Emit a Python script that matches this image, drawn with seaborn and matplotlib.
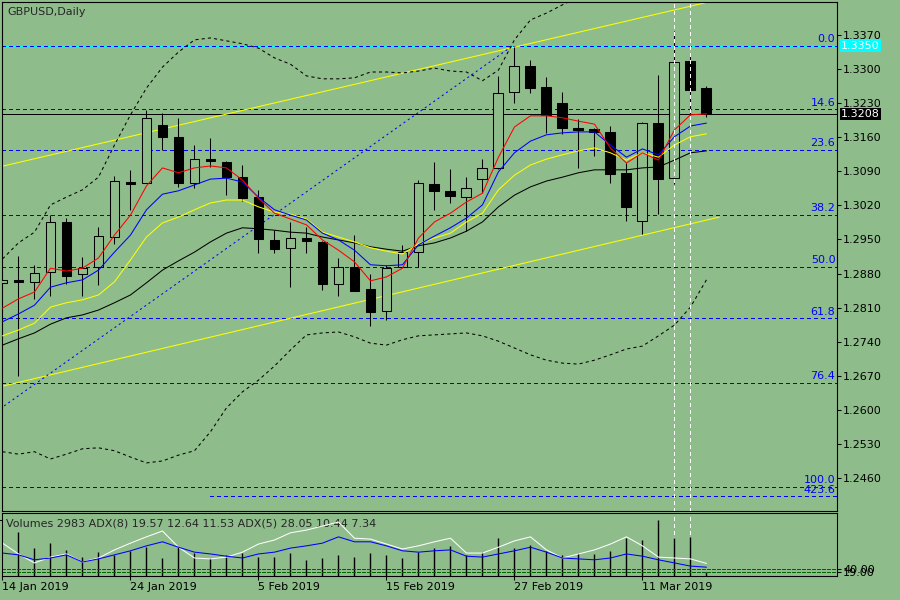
import numpy as np
import matplotlib
matplotlib.use('Agg')
import matplotlib.pyplot as plt
import seaborn as sns

# GBPUSD daily candles, 14 Jan 2019 .. 15 Mar 2019 (one bar per trading day)
opens = [1.2860, 1.2866, 1.2862, 1.2884, 1.2986, 1.2880, 1.2894, 1.2955, 1.3067, 1.3067,
         1.3185, 1.3161, 1.3067, 1.3115, 1.3110, 1.3079, 1.3038, 1.2949, 1.2933, 1.2953,
         1.2945, 1.2858, 1.2894, 1.2849, 1.2804, 1.2894, 1.2925, 1.3063, 1.3050, 1.3038,
         1.3075, 1.3097, 1.3253, 1.3306, 1.3263, 1.3230, 1.3178, 1.3177, 1.3171, 1.3087,
         1.2988, 1.3189, 1.3077, 1.3317, 1.3261]
highs = [1.2868, 1.2917, 1.2898, 1.3001, 1.2995, 1.2913, 1.2976, 1.3081, 1.3093, 1.3216,
         1.3210, 1.3200, 1.3145, 1.3159, 1.3112, 1.3103, 1.3052, 1.2970, 1.2986, 1.2976,
         1.2946, 1.2911, 1.2959, 1.2880, 1.2898, 1.2939, 1.3073, 1.3110, 1.3095, 1.3079,
         1.3116, 1.3286, 1.3345, 1.3319, 1.3284, 1.3253, 1.3197, 1.3178, 1.3183, 1.3108,
         1.3191, 1.3288, 1.3378, 1.3331, 1.3265]
lows = [1.2858, 1.2670, 1.2827, 1.2833, 1.2858, 1.2833, 1.2856, 1.2941, 1.3011, 1.3065,
        1.3134, 1.3057, 1.3055, 1.3099, 1.3042, 1.3028, 1.2923, 1.2923, 1.2853, 1.2923,
        1.2847, 1.2833, 1.2844, 1.2773, 1.2784, 1.2894, 1.2894, 1.3011, 1.3024, 1.2968,
        1.3046, 1.3095, 1.3230, 1.3251, 1.3169, 1.3167, 1.3097, 1.3122, 1.3067, 1.2988,
        1.2961, 1.3003, 1.3063, 1.3206, 1.3202]
closes = [1.2866, 1.2865, 1.2882, 1.2986, 1.2874, 1.2892, 1.2957, 1.3071, 1.3066, 1.3200,
          1.3161, 1.3067, 1.3116, 1.3112, 1.3079, 1.3036, 1.2951, 1.2931, 1.2953, 1.2947,
          1.2858, 1.2894, 1.2845, 1.2802, 1.2892, 1.2925, 1.3065, 1.3050, 1.3040, 1.3055,
          1.3097, 1.3251, 1.3306, 1.3261, 1.3206, 1.3179, 1.3177, 1.3171, 1.3085, 1.3017,
          1.3189, 1.3075, 1.3315, 1.3257, 1.3208]

# moving averages
ma_red = [1.2809, 1.2828, 1.2842, 1.2891, 1.2885, 1.2891, 1.2912, 1.2959, 1.3000, 1.3060,
          1.3097, 1.3087, 1.3097, 1.3101, 1.3097, 1.3072, 1.3035, 1.3004, 1.2992, 1.2980,
          1.2949, 1.2928, 1.2904, 1.2865, 1.2873, 1.2891, 1.2953, 1.2986, 1.3004, 1.3027,
          1.3045, 1.3119, 1.3181, 1.3204, 1.3204, 1.3200, 1.3193, 1.3187, 1.3138, 1.3107,
          1.3128, 1.3113, 1.3175, 1.3206, 1.3208]
ma_blue = [1.2781, 1.2797, 1.2815, 1.2852, 1.2861, 1.2867, 1.2887, 1.2924, 1.2959, 1.3011,
           1.3043, 1.3050, 1.3062, 1.3074, 1.3076, 1.3068, 1.3037, 1.3011, 1.3000, 1.2990,
           1.2963, 1.2949, 1.2928, 1.2898, 1.2896, 1.2898, 1.2939, 1.2957, 1.2974, 1.2994,
           1.3021, 1.3089, 1.3128, 1.3152, 1.3165, 1.3169, 1.3171, 1.3171, 1.3144, 1.3119,
           1.3136, 1.3124, 1.3161, 1.3183, 1.3189]
ma_yellow = [1.2752, 1.2764, 1.2778, 1.2811, 1.2820, 1.2826, 1.2836, 1.2863, 1.2908, 1.2955,
             1.2984, 1.2996, 1.3011, 1.3025, 1.3031, 1.3031, 1.3017, 1.3006, 1.3002, 1.2992,
             1.2965, 1.2955, 1.2945, 1.2933, 1.2926, 1.2920, 1.2941, 1.2953, 1.2963, 1.2986,
             1.3004, 1.3052, 1.3082, 1.3103, 1.3115, 1.3124, 1.3132, 1.3138, 1.3128, 1.3113,
             1.3128, 1.3119, 1.3144, 1.3161, 1.3167]
ma_black = [1.2733, 1.2746, 1.2758, 1.2776, 1.2789, 1.2795, 1.2805, 1.2820, 1.2836, 1.2861,
            1.2887, 1.2906, 1.2924, 1.2945, 1.2963, 1.2974, 1.2972, 1.2969, 1.2965, 1.2963,
            1.2955, 1.2949, 1.2943, 1.2935, 1.2930, 1.2926, 1.2937, 1.2943, 1.2953, 1.2967,
            1.2986, 1.3017, 1.3041, 1.3058, 1.3070, 1.3078, 1.3087, 1.3093, 1.3093, 1.3093,
            1.3097, 1.3099, 1.3113, 1.3128, 1.3132]

# bollinger bands (upper band leaves the window after bar 36)
bb_upper = [1.2910, 1.2943, 1.2965, 1.3021, 1.3037, 1.3052, 1.3078, 1.3144, 1.3206, 1.3261,
            1.3304, 1.3335, 1.3360, 1.3364, 1.3358, 1.3352, 1.3343, 1.3323, 1.3310, 1.3286,
            1.3280, 1.3280, 1.3282, 1.3294, 1.3294, 1.3292, 1.3296, 1.3302, 1.3296, 1.3294,
            1.3276, 1.3298, 1.3360, 1.3401, 1.3415, 1.3432, 1.3448]
bb_lower = [1.2514, 1.2509, 1.2514, 1.2499, 1.2509, 1.2520, 1.2522, 1.2516, 1.2503, 1.2491,
            1.2495, 1.2507, 1.2516, 1.2555, 1.2604, 1.2637, 1.2661, 1.2690, 1.2723, 1.2754,
            1.2758, 1.2760, 1.2750, 1.2737, 1.2733, 1.2744, 1.2752, 1.2754, 1.2756, 1.2758,
            1.2752, 1.2741, 1.2727, 1.2713, 1.2702, 1.2696, 1.2694, 1.2702, 1.2713, 1.2725,
            1.2731, 1.2752, 1.2774, 1.2811, 1.2867]

# trend lines (bar index, price)
chan_upper_x, chan_upper_y = [-0.2, 43.9], [1.3099, 1.3436]
chan_lower_x, chan_lower_y = [-0.2, 44.8], [1.2647, 1.2996]
blue_trend_x, blue_trend_y = [0.1, 31.85], [1.2608, 1.3347]

# fibonacci levels
fib_names = ['0.0', '14.6', '23.6', '38.2', '50.0', '61.8', '76.4', '100.0', '423.6']
fib_prices = [1.3348, 1.3217, 1.3134, 1.3001, 1.2894, 1.2788, 1.2656, 1.2442, 1.2422]
fib_ext_start = 13

last_price = 1.3208
fib_top_label = 1.3350
marked_bars = [42, 43]

price_ticks = [1.2460, 1.2530, 1.2600, 1.2670, 1.2740, 1.2810, 1.2880, 1.2950,
               1.3020, 1.3090, 1.3160, 1.3230, 1.3300, 1.3370]
date_bars = [0, 8, 16, 24, 32, 40]
date_labels = ['14 Jan 2019', '24 Jan 2019', '5 Feb 2019', '15 Feb 2019',
               '27 Feb 2019', '11 Mar 2019']

# lower window: tick volumes (from bar 1) and the two ADX lines
volumes = [32800, 20900, 24600, 19400, 14200, 17900, 15700, 18600, 21600,
           13400, 21600, 17200, 13400, 15700, 17200, 14200, 14200, 17200, 11900,
           13400, 15700, 14200, 17200, 15700, 13400, 17900, 20900, 22400, 15700,
           17900, 28300, 20900, 23100, 18600, 15700, 17200, 16400, 18600, 28300,
           26900, 41793, 28300, 29100, 2983]
adx_white = [73, 49, 29, 42, 49, 31, 40, 58, 73, 87,
             100, 64, 40, 38, 42, 53, 71, 80, 96, 102,
             111, 120, 84, 82, 71, 60, 67, 76, 84, 51,
             51, 64, 78, 87, 58, 40, 49, 58, 71, 87,
             67, 42, 40, 38, 28]
adx_blue = [51, 47, 36, 40, 47, 31, 38, 47, 56, 67,
            76, 64, 53, 49, 44, 40, 49, 53, 62, 67,
            73, 87, 76, 76, 67, 56, 53, 56, 58, 44,
            42, 49, 56, 64, 53, 40, 38, 36, 40, 49,
            44, 36, 29, 22, 19.6]
adx_levels = [16, 9]
adx_level_labels = ['40.00', '19.00']

BG = '#8fbc8b'
LW = 0.75
DASH = (0, (4, 3))

sns.set_style('white', rc={'axes.facecolor': BG, 'figure.facecolor': BG,
                           'axes.edgecolor': 'black', 'axes.linewidth': LW})
plt.rcParams['font.family'] = ['DejaVu Sans']

fig = plt.figure(figsize=(9, 6), dpi=100)
ax = fig.add_axes([2 / 900, 1 - 511 / 600, 835 / 900, 509 / 600])
axv = fig.add_axes([2 / 900, 1 - 576 / 600, 835 / 900, 63 / 600])

x = np.arange(len(opens))
xlim = (-0.03, 52.16)

# fibonacci lines, crisp 1px like the terminal draws them
for name, p in zip(fib_names, fib_prices):
    start = fib_ext_start if name == '423.6' else xlim[0]
    if name == '0.0':
        ax.plot([start, xlim[1]], [p, p], color='cyan', lw=0.72,
                antialiased=False, snap=True, zorder=1)
    ax.plot([start, xlim[1]], [p, p], color='#0000ff', lw=0.72, linestyle=DASH,
            antialiased=False, snap=True, zorder=1)
    ax.text(0.998, p + 0.0003, name, transform=ax.get_yaxis_transform(),
            ha='right', va='bottom', color='#0000ff', fontsize=8)

ax.plot(xlim, [last_price, last_price], color='black', lw=0.72,
        antialiased=False, snap=True, zorder=1)

# channel and trend lines
sns.lineplot(x=chan_upper_x, y=chan_upper_y, color='yellow', lw=LW, ax=ax)
sns.lineplot(x=chan_lower_x, y=chan_lower_y, color='yellow', lw=LW, ax=ax)
sns.lineplot(x=blue_trend_x, y=blue_trend_y, color='#0000ff', lw=LW,
             linestyle=(0, (2, 3)), ax=ax)

# bollinger bands
sns.lineplot(x=np.arange(len(bb_upper)), y=bb_upper, color='black', lw=LW,
             linestyle=(0, (3, 3)), ax=ax)
sns.lineplot(x=x, y=bb_lower, color='black', lw=LW, linestyle=(0, (3, 3)), ax=ax)

# candles
o, h, l, c = (np.array(v) for v in (opens, highs, lows, closes))
bull = c > o
lo = np.minimum(o, c)
hgt = np.abs(c - o)
doji = hgt < 0.0004
lo = np.where(doji, (o + c) / 2 - 0.0002, lo)
hgt = np.where(doji, 0.0004, hgt)
ax.vlines(x, l, h, color='black', lw=LW, zorder=3)
ax.bar(x[bull], hgt[bull], bottom=lo[bull], width=0.62, facecolor=BG,
       edgecolor='black', lw=LW, zorder=4)
ax.bar(x[~bull], hgt[~bull], bottom=lo[~bull], width=0.62, facecolor='black',
       edgecolor='black', lw=LW, zorder=4)

# moving averages
for vals, col in [(ma_black, 'black'), (ma_yellow, 'yellow'),
                  (ma_blue, '#0000ff'), (ma_red, 'red')]:
    sns.lineplot(x=x, y=vals, color=col, lw=LW, ax=ax, zorder=5)

for b in marked_bars:
    ax.axvline(b, color='white', lw=0.72, linestyle=DASH, antialiased=False, zorder=6)
    axv.axvline(b, color='white', lw=0.72, linestyle=DASH, antialiased=False, zorder=1)

ax.set_xlim(*xlim)
ax.set_ylim(1.23922, 1.34378)
ax.set_xticks([])
ax.set_yticks(price_ticks)
ax.set_yticklabels([f'{t:.4f}' for t in price_ticks])
ax.yaxis.tick_right()
ax.tick_params(axis='y', direction='out', length=3, width=LW, labelsize=8,
               pad=1.5, colors='black')
ax.set_xlabel('')
ax.set_ylabel('')

for txt, p, fc in [(f'{fib_top_label:.4f}', fib_prices[0], 'cyan'),
                   (f'{last_price:.4f}', last_price, 'black')]:
    ax.annotate(txt, xy=(1, p), xycoords=ax.get_yaxis_transform(),
                xytext=(4, 0), textcoords='offset pixels', ha='left', va='center',
                color='white', fontsize=8, annotation_clip=False, zorder=10,
                bbox=dict(boxstyle='square,pad=0.12', fc=fc, ec='none'))

ax.text(5 / 835, 1 - 10 / 509, 'GBPUSD,Daily', transform=ax.transAxes,
        ha='left', va='center', fontsize=8)

# lower window
axv.vlines(x[1:], 0, volumes, color='black', lw=1.0, zorder=2)
axv.set_xlim(*xlim)
axv.set_ylim(0, 47017)
axv.set_yticks([41793])
axv.set_yticklabels(['41793'])
axv.yaxis.tick_right()
axv.tick_params(axis='y', direction='out', length=3, width=LW, labelsize=8,
                pad=1.5, colors='black')
axv.set_xticks(date_bars)
axv.set_xticklabels(date_labels, ha='left')
axv.tick_params(axis='x', direction='out', length=3, width=LW, labelsize=8,
                pad=1.5, colors='black', bottom=True)

ax2 = axv.twinx()
ax2.set_ylim(0, 140)
for lev in adx_levels:
    ax2.plot(xlim, [lev, lev], color='#006400', lw=0.72, linestyle=(0, (3, 2)),
             antialiased=False, snap=True, zorder=1)
sns.lineplot(x=x, y=adx_white, color='white', lw=LW, ax=ax2)
sns.lineplot(x=x, y=adx_blue, color='#0000ff', lw=LW, ax=ax2)
ax2.set_yticks(adx_levels)
ax2.set_yticklabels(adx_level_labels)
ax2.tick_params(axis='y', direction='out', length=3, width=LW, labelsize=8,
                pad=1.5, colors='black')
ax2.set_xlim(*xlim)
ax2.set_ylabel('')
for a in (axv, ax2):
    for s in a.spines.values():
        s.set_linewidth(LW)

axv.text(4 / 835, 1 - 11 / 63,
         'Volumes 2983 ADX(8) 19.57 12.64 11.53 ADX(5) 28.05 10.44 7.34',
         transform=axv.transAxes, ha='left', va='center', fontsize=8, zorder=10)

fig.savefig('out.png', dpi=100, facecolor=BG)
